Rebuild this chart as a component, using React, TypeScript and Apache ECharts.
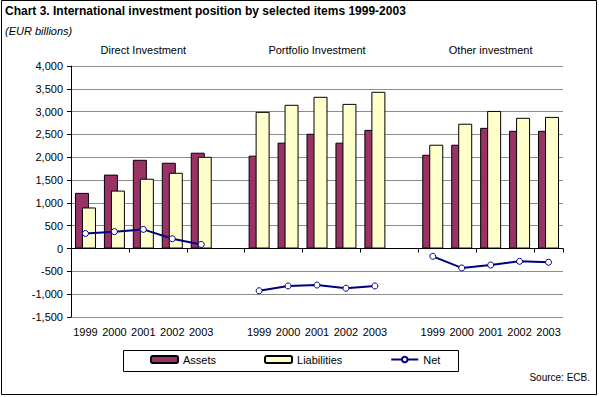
import React, { useEffect, useRef } from "react";
import * as echarts from "echarts";

const years = ["1999", "2000", "2001", "2002", "2003"];
const groupTitles = ["Direct Investment", "Portfolio Investment", "Other investment"];

const directAssets = [1220, 1620, 1945, 1880, 2100];
const directLiabilities = [900, 1270, 1530, 1660, 2010];
const directNet = [330, 370, 420, 215, 90];

const portfolioAssets = [2035, 2320, 2515, 2320, 2600];
const portfolioLiabilities = [2995, 3150, 3325, 3170, 3435];
const portfolioNet = [-925, -820, -800, -870, -820];

const otherAssets = [2055, 2275, 2645, 2580, 2580];
const otherLiabilities = [2275, 2735, 3015, 2865, 2885];
const otherNet = [-170, -425, -360, -280, -300];

const yTicks = [-1500, -1000, -500, 0, 500, 1000, 1500, 2000, 2500, 3000, 3500, 4000];

const joinGroups = (a: any[], b: any[], c: any[]) => [...a, null, ...b, null, ...c];

const categories = joinGroups(years, years, years).map((v) => (v == null ? "" : String(v)));
const assets = joinGroups(directAssets, portfolioAssets, otherAssets);
const liabilities = joinGroups(directLiabilities, portfolioLiabilities, otherLiabilities);
const net = joinGroups(directNet, portfolioNet, otherNet);

const FONT = "'Liberation Sans', Arial, sans-serif";

export default function App() {
  const ref = useRef<HTMLDivElement>(null);
  useEffect(() => {
    document.body.style.margin = "0";
    if (!ref.current) return;
    const chart = echarts.init(ref.current, null, { renderer: "svg" });
    const groupTitleAt = (i: number) => {
      const g = Math.floor(i / 6);
      return i % 6 === 2 && g < groupTitles.length ? groupTitles[g] : "";
    };
    chart.setOption({
      animation: false,
      backgroundColor: "#ffffff",
      textStyle: { fontFamily: FONT, color: "#000" },
      title: {
        text: "Chart 3. International investment position by selected items 1999-2003",
        subtext: "(EUR billions)",
        left: 5,
        top: 5,
        itemGap: 8,
        padding: 0,
        textStyle: { fontFamily: FONT, fontSize: 12, fontWeight: "bold", color: "#000" },
        subtextStyle: { fontFamily: FONT, fontSize: 11, fontStyle: "italic", color: "#000" },
      },
      legend: {
        left: 150,
        top: 354,
        padding: 0,
        itemWidth: 27,
        itemHeight: 7,
        itemGap: 48,
        textStyle: { fontFamily: FONT, fontSize: 11, color: "#000" },
        data: ["Assets", "Liabilities", "Net"],
      },
      grid: {
        left: 71,
        top: 66,
        right: 36,
        bottom: 80,
        containLabel: false,
        outerBoundsMode: "none",
      },
      xAxis: [
        {
          type: "category",
          data: categories,
          position: "bottom",
          axisLine: { show: true, onZero: true, lineStyle: { color: "#000", width: 1 } },
          axisTick: { show: true, length: 4, lineStyle: { color: "#000" } },
          axisLabel: { show: false },
          splitLine: { show: false },
        },
        {
          type: "category",
          data: categories,
          position: "bottom",
          axisLine: { show: false, onZero: false },
          axisTick: { show: false },
          axisLabel: { show: true, interval: 0, margin: 9, fontSize: 11, color: "#000", fontFamily: FONT },
          splitLine: { show: false },
        },
        {
          type: "category",
          data: categories,
          position: "top",
          axisLine: { show: false, onZero: false },
          axisTick: { show: false },
          axisLabel: {
            show: true,
            interval: 0,
            margin: 11,
            fontSize: 11,
            color: "#000",
            fontFamily: FONT,
            hideOverlap: false,
            formatter: (_v: string, i: number) => groupTitleAt(i),
          },
          splitLine: { show: false },
        },
      ],
      yAxis: {
        type: "value",
        min: yTicks[0],
        max: yTicks[yTicks.length - 1],
        interval: 500,
        axisLine: { show: true, lineStyle: { color: "#000", width: 1 } },
        axisTick: { show: true, length: 4, lineStyle: { color: "#000" } },
        axisLabel: {
          margin: 8,
          fontSize: 11,
          color: "#000",
          fontFamily: FONT,
          formatter: (v: number) => v.toLocaleString("en-US"),
        },
        splitLine: { show: true, lineStyle: { color: "#8c8c8c", width: 1 } },
      },
      series: [
        {
          name: "Assets",
          type: "bar",
          xAxisIndex: 0,
          data: assets,
          barWidth: 14,
          barGap: "-50%",
          itemStyle: { color: "#993366", borderColor: "#000", borderWidth: 1 },
        },
        {
          name: "Liabilities",
          type: "bar",
          xAxisIndex: 0,
          data: liabilities,
          barWidth: 14,
          barGap: "-50%",
          itemStyle: { color: "#FFFFCC", borderColor: "#000", borderWidth: 1 },
        },
        {
          name: "Net",
          type: "line",
          xAxisIndex: 0,
          data: net,
          connectNulls: false,
          symbol: "circle",
          symbolSize: 6,
          showAllSymbol: true,
          lineStyle: { color: "#000080", width: 2 },
          itemStyle: { color: "#ffffff", borderColor: "#000080", borderWidth: 1 },
          z: 5,
        },
      ],
      graphic: [
        {
          type: "rect",
          shape: { x: 1.5, y: 0.5, width: 595, height: 394 },
          style: { fill: "none", stroke: "#000", lineWidth: 1 },
          silent: true,
        },
        {
          type: "rect",
          shape: { x: 123.5, y: 350.5, width: 335, height: 21 },
          style: { fill: "none", stroke: "#000", lineWidth: 1 },
          silent: true,
        },
        {
          type: "text",
          right: 9,
          top: 372,
          style: { text: "Source: ECB.", font: `10px ${FONT}`, fill: "#000" },
        },
      ],
    });
    return () => chart.dispose();
  }, []);
  return <div ref={ref} style={{ width: 599, height: 397 }} />;
}
